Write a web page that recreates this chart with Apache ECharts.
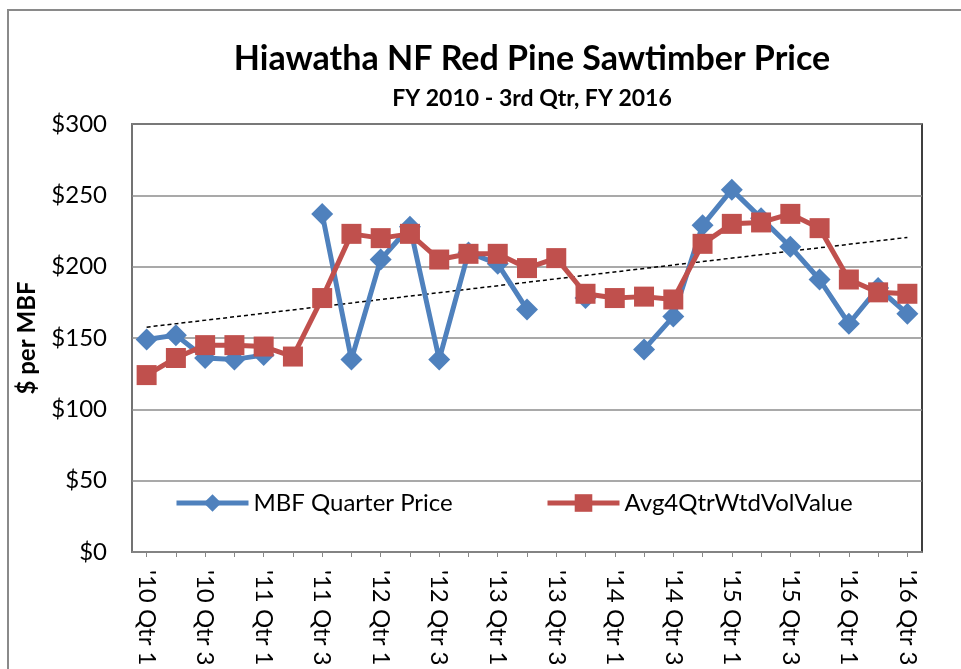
<!DOCTYPE html>
<html>
<head>
<meta charset="utf-8">
<script src="https://cdn.jsdelivr.net/npm/echarts@6/dist/echarts.min.js"></script>
<style>
  html, body { margin: 0; padding: 0; background: #fff; }
  #chart { width: 961px; height: 669px; }
</style>
</head>
<body>
<div id="chart"></div>
<script>
const categories = [
  "'10 Qtr 1", "'10 Qtr 2", "'10 Qtr 3", "'10 Qtr 4",
  "'11 Qtr 1", "'11 Qtr 2", "'11 Qtr 3", "'11 Qtr 4",
  "'12 Qtr 1", "'12 Qtr 2", "'12 Qtr 3", "'12 Qtr 4",
  "'13 Qtr 1", "'13 Qtr 2", "'13 Qtr 3", "'13 Qtr 4",
  "'14 Qtr 1", "'14 Qtr 2", "'14 Qtr 3", "'14 Qtr 4",
  "'15 Qtr 1", "'15 Qtr 2", "'15 Qtr 3", "'15 Qtr 4",
  "'16 Qtr 1", "'16 Qtr 2", "'16 Qtr 3"
]

// MBF Quarter Price (gaps where no sale)
const quarterPrice = [
  149, 152, 136, 135, 138, null, 237, 135,
  205, 228, 135, 210, 202, 170, null, 178,
  null, 142, 165, 229, 254, 234, 214, 191,
  160, 185, 167
]

// Avg4QtrWtdVolValue
const avgValue = [
  124, 136, 145, 145, 144, 137, 178, 223,
  220, 223, 205, 209, 209, 199, 206, 181,
  178, 179, 177, 216, 230, 231, 237, 227,
  191, 182, 181
]

// linear trend of the quarter price, start and end values
const trendLine = [157.6, 220.5]

const yTicks = [0, 50, 100, 150, 200, 250, 300]

const font = 'Lato, "Open Sans", sans-serif'
const blue = '#4F81BD'
const red = '#C0504D'

const chart = echarts.init(document.getElementById('chart'))

const legendBase = {
  top: 491,
  padding: 0,
  itemWidth: 72,
  itemHeight: 22,
  itemGap: 0,
  lineStyle: { width: 5 },
  textStyle: { fontFamily: font, fontSize: 24, color: '#000' }
}

const option = {
  animation: false,
  backgroundColor: '#fff',
  textStyle: { fontFamily: font },
  graphic: [
    {
      type: 'rect',
      shape: { x: 8, y: 10, width: 1000, height: 700 },
      style: { fill: 'none', stroke: '#8a8a8a', lineWidth: 2 },
      silent: true
    }
  ],
  title: [
    {
      text: 'Hiawatha NF Red Pine Sawtimber Price',
      left: 527,
      top: 37,
      textAlign: 'center',
      textStyle: { fontFamily: font, fontSize: 34, fontWeight: 'bold', color: '#000' }
    },
    {
      text: 'FY 2010 - 3rd Qtr, FY 2016',
      left: 527,
      top: 82,
      textAlign: 'center',
      textStyle: { fontFamily: font, fontSize: 23, fontWeight: 'bold', color: '#000' }
    }
  ],
  legend: [
    Object.assign({}, legendBase, { data: ['MBF Quarter Price'], left: 174 }),
    Object.assign({}, legendBase, { data: ['Avg4QtrWtdVolValue'], left: 545 })
  ],
  grid: {
    left: 132,
    top: 124,
    right: 39,
    bottom: 117,
    show: true,
    borderColor: '#000',
    borderWidth: 1.5,
    containLabel: false
  },
  xAxis: {
    type: 'category',
    data: categories,
    boundaryGap: true,
    axisLine: { lineStyle: { color: '#868686', width: 1.5 } },
    axisTick: {
      show: true,
      interval: 0,
      alignWithLabel: true,
      length: 5,
      lineStyle: { color: '#868686' }
    },
    axisLabel: {
      interval: 1,
      rotate: -90,
      margin: 18,
      color: '#000',
      fontFamily: font,
      fontSize: 24
    },
    splitLine: { show: false }
  },
  yAxis: {
    type: 'value',
    min: yTicks[0],
    max: yTicks[yTicks.length - 1],
    interval: 50,
    name: '$ per MBF',
    nameLocation: 'middle',
    nameGap: 93,
    nameRotate: 90,
    nameTextStyle: { fontFamily: font, fontSize: 24, fontWeight: 'bold', color: '#000' },
    axisLine: { show: true, lineStyle: { color: '#868686', width: 1.5 } },
    axisTick: { show: false },
    axisLabel: {
      margin: 25,
      color: '#000',
      fontFamily: font,
      fontSize: 24,
      formatter: v => '$' + v
    },
    splitLine: { lineStyle: { color: '#8c8c8c', width: 1.5 } }
  },
  series: [
    {
      name: 'Trend',
      type: 'line',
      data: [[0, trendLine[0]], [categories.length - 1, trendLine[1]]],
      symbol: 'none',
      silent: true,
      lineStyle: { color: '#000', width: 1.5, type: [4, 3] },
      z: 1
    },
    {
      name: 'MBF Quarter Price',
      type: 'line',
      data: quarterPrice,
      connectNulls: false,
      showSymbol: true,
      showAllSymbol: true,
      symbol: 'diamond',
      symbolSize: 22,
      itemStyle: { color: blue },
      lineStyle: { color: blue, width: 5 },
      z: 2
    },
    {
      name: 'Avg4QtrWtdVolValue',
      type: 'line',
      data: avgValue,
      showSymbol: true,
      showAllSymbol: true,
      symbol: 'rect',
      symbolSize: 20,
      itemStyle: { color: red },
      lineStyle: { color: red, width: 5 },
      z: 3
    }
  ]
}

chart.setOption(option)
</script>
</body>
</html>
